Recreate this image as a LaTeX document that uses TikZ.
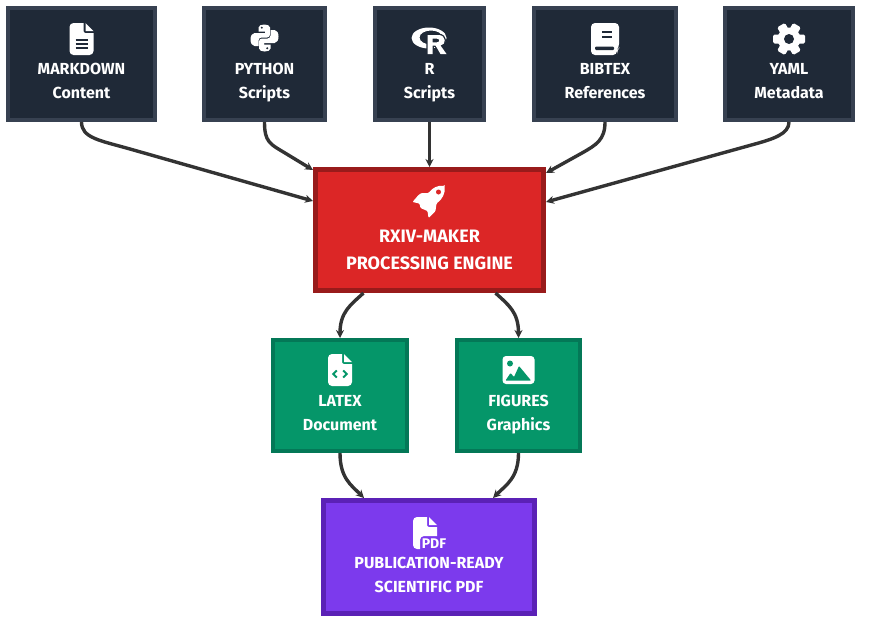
\documentclass[tikz,border=0pt]{standalone}
\usepackage{fontspec}
\setmainfont{Fira Sans}
\usetikzlibrary{arrows.meta,positioning}

\definecolor{slatefill}{HTML}{1F2937}
\definecolor{slateline}{HTML}{374151}
\definecolor{redfill}{HTML}{DC2626}
\definecolor{redline}{HTML}{991B1B}
\definecolor{greenfill}{HTML}{059669}
\definecolor{greenline}{HTML}{047857}
\definecolor{purplefill}{HTML}{7C3AED}
\definecolor{purpleline}{HTML}{5B21B6}
\definecolor{flowline}{HTML}{333333}

% 空の一行目がアイコンの場所
\newcommand{\iconrow}[1]{\rule{0pt}{#1pt}\\}

\tikzset{
  box/.style={rectangle, inner sep=0pt, align=center, text=white, text depth=5pt,
    font=\bfseries\fontsize{16}{24}\selectfont},
  inputbox/.style={box, draw=slateline, fill=slatefill, line width=4pt, minimum height=112pt},
  enginebox/.style={box, draw=redline, fill=redfill, line width=5pt, minimum height=121pt, minimum width=228pt,
    font=\bfseries\fontsize{18}{27}\selectfont},
  outputbox/.style={box, draw=greenline, fill=greenfill, line width=4pt, minimum height=111pt},
  pdfbox/.style={box, draw=purpleline, fill=purplefill, line width=5pt, minimum height=113pt, minimum width=211pt},
  flow/.style={->, draw=flowline, line width=3.4pt},
  % アイコン
  fileshape/.pic={
    \fill[white] (-12,-12) .. controls (-12,-14.2) and (-10.2,-16) .. (-8,-16) -- (2,-16) -- (2,-8)
      .. controls (2,-6.9) and (2.9,-6) .. (4,-6) -- (12,-6) -- (12,12)
      .. controls (12,14.2) and (10.2,16) .. (8,16) -- (-8,16)
      .. controls (-10.2,16) and (-12,14.2) .. (-12,12) -- cycle;
    \fill[white] (12,-8) -- (4,-8) -- (4,-16) -- cycle;
  },
  docicon/.pic={
    \pic {fileshape};
    \draw[slatefill, line width=1.7pt] (-6,0.8) -- (6,0.8) (-6,5) -- (6,5) (-6,9.2) -- (6,9.2);
  },
  codeicon/.pic={
    \pic {fileshape};
    \draw[greenfill, line width=2pt] (-3.2,0.5) -- (-6.7,4) -- (-3.2,7.5) (3.2,0.5) -- (6.7,4) -- (3.2,7.5);
  },
  pythonhalf/.pic={
    \fill[white] (-6,-10.5) .. controls (-6,-14.5) and (5.5,-14.5) .. (5.5,-10.5) -- (5.5,-3.5)
      .. controls (5.5,-1.8) and (4.2,-0.5) .. (2.5,-0.5) -- (-3,-0.5)
      .. controls (-4.7,-0.5) and (-6,0.8) .. (-6,2.5) -- (-6,8) -- (-10,8)
      .. controls (-12.5,8) and (-14,5) .. (-14,1.5) .. controls (-14,-2) and (-12.5,-5) .. (-10,-5)
      -- (0.5,-5) -- (0.5,-6.5) -- (-6,-6.5) -- cycle;
    \fill[slatefill] (-2.7,-10.3) circle (1.1);
  },
  pythonicon/.pic={
    \pic {pythonhalf};
    \pic[rotate=180] {pythonhalf};
  },
  rlogoicon/.pic={
    \fill[white, even odd rule] (-0.5,-1) ellipse [x radius=17.5, y radius=10.5]
      (1.5,-1.5) ellipse [x radius=11.5, y radius=7];
    \draw[slatefill, line width=2.5pt, fill=slatefill] (-2,-4) -- (9,-4) .. controls (17,-4) and (17,6) .. (11,6.5)
      -- (17,15) -- (11,15) -- (6,6.5) -- (3,6.5) -- (3,15) -- (-2,15) -- cycle;
    \fill[white, even odd rule] (-2,-4) -- (9,-4) .. controls (17,-4) and (17,6) .. (11,6.5)
      -- (17,15) -- (11,15) -- (6,6.5) -- (3,6.5) -- (3,15) -- (-2,15) -- cycle
      (3,-0.3) -- (7.5,-0.3) .. controls (10.5,-0.3) and (10.5,3.3) .. (7.5,3.3) -- (3,3.3) -- cycle;
  },
  bookicon/.pic={
    \fill[white, rounded corners=4pt] (-14,-16) -- (14,-16) -- (14,9) -- (12,11) -- (12,16) -- (-14,16) -- cycle;
    \fill[slatefill, rounded corners=1pt] (-10,7.7) rectangle (9,11);
    \draw[slatefill, line width=1.7pt] (-3,-7.3) -- (7,-7.3) (-3,-2.3) -- (7,-2.3);
  },
  gearicon/.pic={
    \fill[white] (0,0) circle (11.5);
    \foreach \a in {30,90,...,330} {
      \fill[white, rotate=\a, rounded corners=1.5pt] (-4.5,8) rectangle (4.5,16);
    }
    \fill[slatefill] (0,0) circle (5);
  },
  rocketicon/.pic={
    \fill[white, rounded corners=1pt] (15,-16) .. controls (8,-17) and (3,-14) .. (-1,-9) -- (-8,-9)
      -- (-11,-7) -- (-17,0) -- (-10,1.5) -- (-9,6) -- (-2,9) -- (-1,16) -- (6,9) -- (7,1.5)
      .. controls (13,-3) and (16,-9) .. cycle;
    \fill[redfill] (9,-10) circle (2.5);
  },
  imageicon/.pic={
    \fill[white, rounded corners=3.5pt] (-16,-14) rectangle (16,14);
    \fill[greenfill] (-8.5,-6.5) circle (3);
    \fill[greenfill, rounded corners=0.7pt] (-13,10.5) -- (-8,3) -- (-4.5,7) -- (0.5,-4) -- (12.5,10.5) -- cycle;
  },
  pdficon/.pic={
    \fill[white] (-12,-12) .. controls (-12,-14.2) and (-10.2,-16) .. (-8,-16) -- (2,-16) -- (2,-8)
      .. controls (2,-6.9) and (2.9,-6) .. (4,-6) -- (12,-6) -- (12,3) -- (-1,3)
      .. controls (-3.2,3) and (-5,4.8) .. (-5,7) -- (-5,16) -- (-8,16)
      .. controls (-10.2,16) and (-12,14.2) .. (-12,12) -- cycle;
    \fill[white] (12,-8) -- (4,-8) -- (4,-16) -- cycle;
    \node (pdfmark) [text=white, inner sep=0pt, font=\bfseries\fontsize{14}{14}\selectfont] at (9,11) {PDF};
  }
}

\begin{document}
\begin{tikzpicture}[x=1pt, y=-1pt, >={Stealth[length=8pt, width=8pt]}]
  \useasboundingbox (0,0) rectangle (869,627);

  % ノード
  \node (markdown) [inputbox, minimum width=147pt] at (81.5,64) {\iconrow{25}MARKDOWN\\Content};
  \node (python) [inputbox, minimum width=121pt, right=45pt of markdown] {\iconrow{25}PYTHON\\Scripts};
  \node (rscript) [inputbox, minimum width=109pt, right=46pt of python] {\iconrow{25}R\\Scripts};
  \node (bibtex) [inputbox, minimum width=142pt, right=46pt of rscript] {\iconrow{25}BIBTEX\\References};
  \node (yaml) [inputbox, minimum width=128pt, right=45pt of bibtex] {\iconrow{25}YAML\\Metadata};
  \node (engine) [enginebox, below=45pt of rscript] {\iconrow{29}RXIV-MAKER\\PROCESSING ENGINE};
  \node (latex) [outputbox, minimum width=134pt, below=45pt of engine, xshift=-89.5pt] {\iconrow{26}LATEX\\Document};
  \node (figures) [outputbox, minimum width=123pt, below=45pt of engine, xshift=89pt] {\iconrow{26}FIGURES\\Graphics};
  \node (pdf) [pdfbox, below=45pt of latex, xshift=89pt] {\iconrow{27}PUBLICATION-READY\\SCIENTIFIC PDF};

  % アイコン
  \pic at ([yshift=-33pt]markdown.north) {docicon};
  \pic at ([yshift=-32pt]python.north) {pythonicon};
  \pic at ([yshift=-33pt]rscript.north) {rlogoicon};
  \pic at ([yshift=-33pt]bibtex.north) {bookicon};
  \pic at ([yshift=-33pt]yaml.north) {gearicon};
  \pic at ([yshift=-35pt]engine.north) {rocketicon};
  \pic at ([yshift=-32pt]latex.north) {codeicon};
  \pic at ([yshift=-32pt]figures.north) {imageicon};
  \pic at ([yshift=-35pt, xshift=-4pt]pdf.north) {pdficon};

  % 矢印
  \coordinate (markdownbend) at (130,149);
  \coordinate (pythonbend) at (285,153);
  \coordinate (bibtexbend) at (582,153);
  \coordinate (yamlbend) at (755,144);
  \draw[flow] (markdown.south) .. controls +(0,16) and +(-30,-8.5) .. (markdownbend) -- ([yshift=29pt]engine.west);
  \draw[flow] (python.south) .. controls +(0,20) and +(-15,-9) .. (pythonbend) -- ([yshift=60pt]engine.west);
  \draw[flow] (rscript.south) -- (engine.north);
  \draw[flow] (bibtex.south) .. controls +(0,18) and +(14,-8) .. (bibtexbend) -- ([yshift=57pt]engine.east);
  \draw[flow] (yaml.south) .. controls +(0,12) and +(18,-5) .. (yamlbend) -- ([yshift=28pt]engine.east);
  \draw[flow] ([xshift=-66pt]engine.south) .. controls +(-13,12) and +(0,-26) .. (latex.north);
  \draw[flow] ([xshift=66pt]engine.south) .. controls +(13,12) and +(0,-26) .. (figures.north);
  \draw[flow] (latex.south) .. controls +(0,25) and +(-13,-13) .. ([xshift=-65pt]pdf.north);
  \draw[flow] (figures.south) .. controls +(0,25) and +(13,-13) .. ([xshift=64pt]pdf.north);
\end{tikzpicture}
\end{document}
